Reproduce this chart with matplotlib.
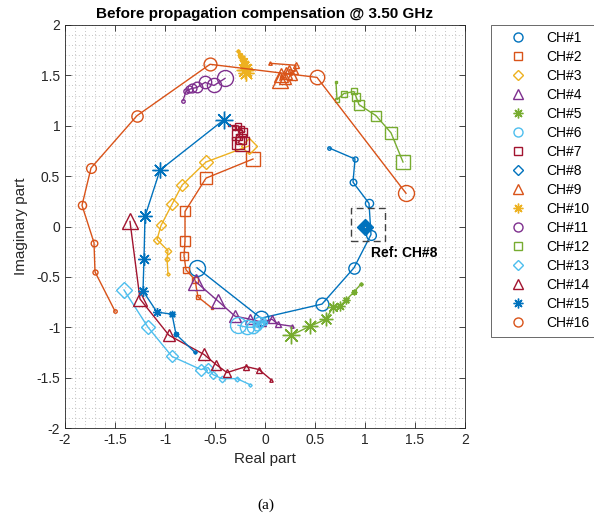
import numpy as np
import matplotlib as mpl
mpl.use('agg')
import matplotlib.pyplot as plt
from matplotlib.lines import Line2D
from matplotlib.patches import Rectangle
from matplotlib.ticker import MultipleLocator, FormatStrFormatter

plt.rcParams['font.family'] = ['Liberation Sans', 'DejaVu Sans']
plt.rcParams['axes.unicode_minus'] = False

# channel traces, ordered from the smallest marker to the largest
ch_names = ["CH#%d" % (i + 1) for i in range(16)]

ch01_re = [0.64, 0.90, 0.88, 1.04, 1.06, 0.89, 0.57, -0.04, -0.68]
ch01_im = [0.78, 0.67, 0.44, 0.23, -0.08, -0.41, -0.77, -0.91, -0.41]
ch02_re = [-0.53, -0.67, -0.70, -0.79, -0.81, -0.80, -0.80, -0.59, -0.12]
ch02_im = [-0.81, -0.70, -0.53, -0.43, -0.29, -0.14, 0.15, 0.48, 0.67]
ch03_re = [-0.97, -0.98, -0.97, -1.08, -1.04, -0.93, -0.83, -0.59, -0.16]
ch03_im = [-0.47, -0.32, -0.24, -0.13, 0.01, 0.22, 0.41, 0.64, 0.80]
ch04_re = [0.27, 0.13, 0.07, -0.03, -0.15, -0.30, -0.47, -0.69]
ch04_im = [-0.99, -0.97, -0.92, -0.95, -0.92, -0.89, -0.74, -0.55]
ch05_re = [0.96, 0.89, 0.81, 0.75, 0.68, 0.61, 0.45, 0.26]
ch05_im = [-0.57, -0.65, -0.73, -0.79, -0.80, -0.92, -0.99, -1.08]
ch06_re = [0.00, -0.02, -0.05, -0.08, -0.06, -0.12, -0.18, -0.27]
ch06_im = [-0.96, -0.93, -0.97, -0.99, -0.95, -1.00, -1.00, -0.98]
ch07_re = [-0.36, -0.31, -0.27, -0.24, -0.22, -0.28, -0.24, -0.27, -0.23]
ch07_im = [1.01, 0.99, 1.00, 0.97, 0.94, 0.91, 0.87, 0.83, 0.82]
ch08_re = [1.0, 1.0, 1.0, 1.0, 1.0, 1.0, 1.0, 1.0, 1.0]
ch08_im = [0.0, 0.0, 0.0, 0.0, 0.0, 0.0, 0.0, 0.0, 0.0]
ch09_re = [0.05, 0.31, 0.30, 0.24, 0.27, 0.21, 0.20, 0.16, 0.15]
ch09_im = [1.62, 1.60, 1.54, 1.56, 1.50, 1.52, 1.47, 1.50, 1.45]
ch10_re = [-0.27, -0.25, -0.23, -0.21, -0.20, -0.19, -0.20, -0.19, -0.20]
ch10_im = [1.74, 1.70, 1.67, 1.64, 1.60, 1.57, 1.55, 1.52, 1.55]
ch11_re = [-0.82, -0.79, -0.76, -0.73, -0.68, -0.60, -0.51, -0.40]
ch11_im = [1.25, 1.34, 1.36, 1.37, 1.38, 1.43, 1.40, 1.47]
ch12_re = [0.71, 0.72, 0.79, 0.89, 0.91, 0.94, 1.11, 1.26, 1.38]
ch12_im = [1.43, 1.26, 1.32, 1.34, 1.29, 1.21, 1.10, 0.93, 0.64]
ch13_re = [-0.15, -0.28, -0.43, -0.52, -0.57, -0.64, -0.93, -1.17, -1.41]
ch13_im = [-1.57, -1.51, -1.51, -1.47, -1.40, -1.42, -1.29, -1.00, -0.63]
ch14_re = [0.06, -0.06, -0.19, -0.38, -0.49, -0.61, -0.96, -1.25, -1.35]
ch14_im = [-1.52, -1.42, -1.39, -1.45, -1.37, -1.27, -1.08, -0.72, 0.05]
ch15_re = [-0.70, -0.89, -0.93, -1.08, -1.22, -1.21, -1.20, -1.05, -0.41]
ch15_im = [-1.25, -1.07, -0.87, -0.85, -0.64, -0.32, 0.10, 0.56, 1.06]
ch16_re = [-1.50, -1.70, -1.71, -1.83, -1.74, -1.28, -0.55, 0.52, 1.41]
ch16_im = [-0.84, -0.45, -0.16, 0.21, 0.58, 1.10, 1.61, 1.48, 0.33]

traces = [
    (ch01_re, ch01_im), (ch02_re, ch02_im), (ch03_re, ch03_im), (ch04_re, ch04_im),
    (ch05_re, ch05_im), (ch06_re, ch06_im), (ch07_re, ch07_im), (ch08_re, ch08_im),
    (ch09_re, ch09_im), (ch10_re, ch10_im), (ch11_re, ch11_im), (ch12_re, ch12_im),
    (ch13_re, ch13_im), (ch14_re, ch14_im), (ch15_re, ch15_im), (ch16_re, ch16_im),
]

colors = ["#0072BD", "#D95319", "#EDB120", "#7E2F8E", "#77AC30", "#4DBEEE", "#A2142F"]
asterisk = (8, 2, 0)
markers = ["o", "s", "D", "^", asterisk]
msize_scale = {"o": 1.0, "s": 0.85, "D": 0.7, "^": 1.0, asterisk: 1.1}
leg_size = {"o": 6.5, "s": 5.5, "D": 5.5, "^": 6.5, asterisk: 7.0}

fig = plt.figure(figsize=(5.94, 5.25), dpi=100)
ax = fig.add_axes([65 / 594, 97 / 525, 400 / 594, 403 / 525])

handles = []
for i, (re, im) in enumerate(traces):
    c = colors[i % 7]
    m = markers[i % 5]
    ax.plot(re, im, color=c, lw=1.0, zorder=2 + i * 0.01)
    sizes = np.linspace(2.5, 11.5, len(re)) * msize_scale[m]
    for x, y, s in zip(re, im, sizes):
        ax.plot(x, y, marker=m, ms=s, mfc="none", mec=c, mew=1.0,
                linestyle="none", zorder=2 + i * 0.01)
    handles.append(Line2D([], [], marker=m, color=c, mfc="none", mew=1.0,
                          ms=leg_size[m], linestyle="none"))

# dashed box around the reference channel
ax.add_patch(Rectangle((0.86, -0.14), 0.34, 0.32, fill=False, ls=(0, (5, 3)),
                       lw=1.0, ec="#404040", zorder=5))
ax.text(1.06, -0.30, "Ref: CH#8", fontsize=10, fontweight="bold", zorder=6)

ax.set_xlim(-2, 2)
ax.set_ylim(-2, 2)
ax.xaxis.set_major_locator(MultipleLocator(0.5))
ax.yaxis.set_major_locator(MultipleLocator(0.5))
ax.xaxis.set_minor_locator(MultipleLocator(0.1))
ax.yaxis.set_minor_locator(MultipleLocator(0.1))
ax.xaxis.set_major_formatter(FormatStrFormatter("%g"))
ax.yaxis.set_major_formatter(FormatStrFormatter("%g"))
ax.tick_params(which="major", direction="in", top=True, right=True,
               length=4, width=0.6, labelsize=10, colors="#262626")
ax.tick_params(which="minor", length=0)
ax.grid(which="both", linestyle=(0, (1, 3)), color="#b0b0b0", lw=0.6)
ax.set_axisbelow(True)
for sp in ax.spines.values():
    sp.set_color("#262626")
    sp.set_linewidth(0.6)

ax.set_xlabel("Real part", fontsize=11, color="#262626")
ax.set_ylabel("Imaginary part", fontsize=11, color="#262626", labelpad=6)
ax.set_title("Before propagation compensation @ 3.50 GHz", fontsize=11,
             fontweight="bold", pad=5)

leg = fig.legend(handles, ch_names, loc="upper left",
                 bbox_to_anchor=(491 / 594, 1 - 25 / 525), fontsize=10,
                 frameon=True, fancybox=False, edgecolor="#262626",
                 handlelength=3.0, handletextpad=0.5, labelspacing=0.36,
                 borderpad=0.45, borderaxespad=0)
leg.get_frame().set_linewidth(0.6)

fig.text(266 / 594, 1 - 505 / 525, "(a)", fontsize=11, family="Liberation Serif",
         ha="center", va="center")

fig.savefig("out.png", dpi=100)
